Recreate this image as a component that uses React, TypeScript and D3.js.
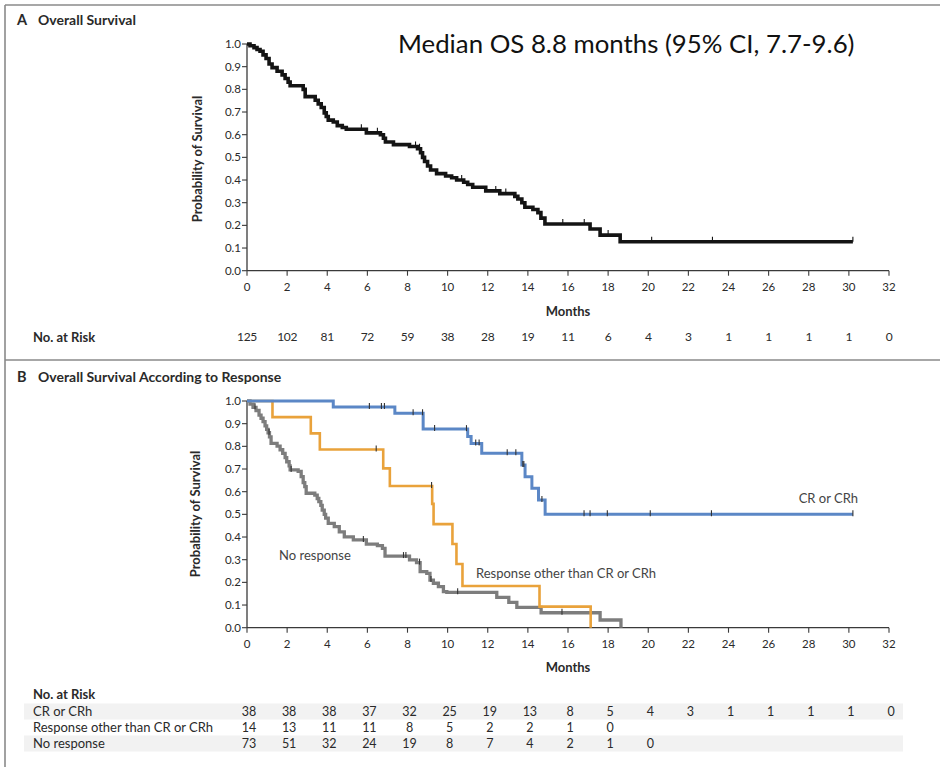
import React from "react";
import * as d3 from "d3";

// ---- Panel A: overall survival (step times in months, survival after each step) ----
const osTimes = [0.15, 0.35, 0.5, 0.65, 0.8, 0.95, 1.1, 1.25, 1.5, 1.75, 1.9, 2.05, 2.15, 2.8, 2.9, 3.4, 3.55, 3.7, 3.85, 3.95, 4.05, 4.3, 4.5, 4.75, 4.95, 5.95, 6.65, 6.8, 6.9, 7.3, 8.1, 8.5, 8.65, 8.75, 8.85, 9.0, 9.15, 9.45, 9.9, 10.2, 10.45, 10.8, 11.0, 11.25, 11.9, 12.6, 13.35, 13.5, 13.7, 13.85, 14.25, 14.5, 14.65, 14.85, 17.1, 17.6, 18.6];
const osValues = [0.992, 0.984, 0.976, 0.968, 0.952, 0.936, 0.912, 0.896, 0.88, 0.864, 0.848, 0.832, 0.816, 0.8, 0.768, 0.752, 0.736, 0.72, 0.696, 0.68, 0.664, 0.656, 0.64, 0.632, 0.624, 0.608, 0.6, 0.584, 0.568, 0.556, 0.548, 0.538, 0.52, 0.5, 0.482, 0.462, 0.444, 0.428, 0.418, 0.41, 0.4, 0.39, 0.38, 0.368, 0.352, 0.34, 0.328, 0.316, 0.3, 0.28, 0.27, 0.256, 0.232, 0.206, 0.184, 0.157, 0.128];
const osEnd = 30.2;
const osCensored = [5.7, 6.5, 8.4, 8.6, 10.7, 12.4, 12.9, 15.74, 16.81, 18.0, 20.17, 23.2, 30.2];
const osAtRisk = [125, 102, 81, 72, 59, 38, 28, 19, 11, 6, 4, 3, 1, 1, 1, 1, 0];

// ---- Panel B: survival by response ----
const crTimes = [4.3, 7.37, 8.78, 11.0, 11.17, 11.7, 13.7, 13.86, 14.2, 14.53, 14.86];
const crValues = [0.974, 0.946, 0.876, 0.843, 0.813, 0.769, 0.718, 0.666, 0.615, 0.563, 0.5];
const crEnd = 30.2;
const crCensored = [6.1, 6.7, 6.85, 8.28, 8.75, 9.35, 10.94, 11.4, 11.57, 12.97, 13.4, 13.75, 13.8, 14.7, 16.8, 17.1, 17.96, 20.1, 23.15, 30.2];

const orTimes = [1.27, 3.18, 3.63, 6.79, 7.12, 9.23, 9.3, 10.24, 10.44, 10.74, 14.58, 17.13];
const orValues = [0.929, 0.857, 0.786, 0.703, 0.625, 0.546, 0.457, 0.369, 0.281, 0.184, 0.093, 0];
const orEnd = 17.13;
const orCensored = [6.44, 9.2];

const nrTimes = [0.15, 0.3, 0.45, 0.6, 0.7, 0.8, 0.9, 0.98, 1.05, 1.12, 1.2, 1.5, 1.65, 1.78, 1.9, 1.98, 2.1, 2.15, 2.55, 2.7, 2.8, 2.88, 2.95, 3.38, 3.5, 3.58, 3.68, 3.75, 3.85, 3.92, 4.05, 4.35, 4.6, 4.85, 5.3, 5.95, 6.5, 6.75, 6.88, 8.1, 8.45, 8.63, 8.96, 9.12, 9.29, 9.54, 9.79, 9.96, 12.45, 13.05, 13.45, 14.66, 17.6, 18.64];
const nrValues = [0.986, 0.972, 0.958, 0.938, 0.924, 0.909, 0.89, 0.875, 0.86, 0.842, 0.813, 0.801, 0.785, 0.769, 0.75, 0.732, 0.714, 0.696, 0.69, 0.666, 0.64, 0.622, 0.593, 0.585, 0.57, 0.556, 0.54, 0.519, 0.5, 0.483, 0.46, 0.446, 0.423, 0.401, 0.387, 0.369, 0.362, 0.35, 0.316, 0.299, 0.287, 0.247, 0.24, 0.21, 0.196, 0.181, 0.159, 0.156, 0.134, 0.112, 0.09, 0.066, 0.034, 0];
const nrEnd = 18.64;
const nrCensored = [0.4, 1.1, 2.2, 5.8, 7.8, 7.92, 8.6, 9.17, 10.5, 15.7];

const riskGroups = ["CR or CRh", "Response other than CR or CRh", "No response"];
const crAtRisk = [38, 38, 38, 37, 32, 25, 19, 13, 8, 5, 4, 3, 1, 1, 1, 1, 0];
const orAtRisk = [14, 13, 11, 11, 8, 5, 2, 2, 1, 0];
const nrAtRisk = [73, 51, 32, 24, 19, 8, 7, 4, 2, 1, 0];

const monthTicks = d3.range(0, 33, 2);
const survTicks = d3.range(0, 1.01, 0.1);

const FONT = "Lato, 'Open Sans', sans-serif";
const TEXT = "#2a2a2a";
const AXIS = "#3a3a3a";
const BLUE = "#5b87c6";
const ORANGE = "#e9a23b";
const GRAY = "#7d7d7d";

const x = d3.scaleLinear().domain([0, 32]).range([247, 889]);
const yA = d3.scaleLinear().domain([0, 1]).range([270.7, 44]);
const yB = d3.scaleLinear().domain([0, 1]).range([627.7, 401]);

type Pt = [number, number];

function stepPoints(times: number[], values: number[], end: number): Pt[] {
  const pts: Pt[] = [[0, 1]];
  times.forEach((t, i) => pts.push([t, values[i]]));
  const last = pts[pts.length - 1];
  if (end > last[0]) pts.push([end, last[1]]);
  return pts;
}

function survivalAt(times: number[], values: number[], t: number): number {
  let s = 1;
  times.forEach((tt, i) => {
    if (tt <= t) s = values[i];
  });
  return s;
}

function Curve({ times, values, end, censored, y, color, width, tickColor, tickUp, tickDown }: any) {
  const line = d3
    .line<Pt>()
    .x((d) => x(d[0]))
    .y((d) => y(d[1]))
    .curve(d3.curveStepAfter);
  const pts = stepPoints(times, values, end);
  return (
    <g>
      <path d={line(pts) || ""} fill="none" stroke={color} strokeWidth={width} strokeLinejoin="miter" strokeLinecap="butt" />
      {censored.map((c: number, i: number) => {
        const cy = y(survivalAt(times, values, c));
        return <line key={i} x1={x(c)} x2={x(c)} y1={cy - tickUp} y2={cy + tickDown} stroke={tickColor} strokeWidth={1.1} />;
      })}
    </g>
  );
}

function Axes({ y, labelY, monthsY, titleX }: any) {
  const y0 = y(0);
  const y1 = y(1);
  return (
    <g fontFamily={FONT}>
      <line x1={x(0)} x2={x(0)} y1={y1} y2={y0} stroke={AXIS} strokeWidth={1.3} />
      <line x1={x(0)} x2={x(32)} y1={y0} y2={y0} stroke={AXIS} strokeWidth={1.3} />
      {survTicks.map((v) => (
        <g key={v}>
          <line x1={x(0) - 5} x2={x(0)} y1={y(v)} y2={y(v)} stroke={AXIS} strokeWidth={1.1} />
          <text x={x(0) - 6} y={y(v)} dy="0.35em" textAnchor="end" fontSize={11.5} fill={TEXT}>
            {v.toFixed(1)}
          </text>
        </g>
      ))}
      {monthTicks.map((m) => (
        <g key={m}>
          <line x1={x(m)} x2={x(m)} y1={y0} y2={y0 + 5} stroke={AXIS} strokeWidth={1.1} />
          <text x={x(m)} y={y0 + 16} dy="0.35em" textAnchor="middle" fontSize={11.5} fill={TEXT}>
            {m}
          </text>
        </g>
      ))}
      <text x={x(16)} y={monthsY} dy="0.35em" textAnchor="middle" fontSize={13} fontWeight="bold" fill={TEXT}>
        Months
      </text>
      <text
        transform={`translate(${titleX},${labelY}) rotate(-90)`}
        textAnchor="middle"
        dy="0.35em"
        fontSize={13}
        fontWeight="bold"
        fill={TEXT}
      >
        Probability of Survival
      </text>
    </g>
  );
}

export default function App() {
  const riskRowsB = [crAtRisk, orAtRisk, nrAtRisk];
  const rowY = [711.5, 727.5, 743.5];
  return (
    <svg width={940} height={767} style={{ position: "absolute", left: 0, top: 0, background: "#fff" }} fontFamily={FONT}>
      <rect x={0} y={0} width={940} height={767} fill="#fff" />
      {/* frame */}
      <line x1={5} x2={940} y1={5} y2={5} stroke="#8a8a8a" strokeWidth={1.6} />
      <line x1={5} x2={5} y1={5} y2={767} stroke="#8a8a8a" strokeWidth={1.6} />
      <line x1={5} x2={940} y1={360} y2={360} stroke="#8a8a8a" strokeWidth={1.6} />

      {/* Panel A */}
      <text x={17} y={25} fontSize={14.5} fontWeight="bold" fill={TEXT}>A</text>
      <text x={38} y={25} fontSize={14} fontWeight="bold" fill={TEXT}>Overall Survival</text>
      <text x={398} y={53} fontSize={25.8} fill="#111">
        Median OS 8.8 months (95% CI, 7.7-9.6)
      </text>
      <Axes y={yA} labelY={159} monthsY={311} titleX={197} />
      <Curve times={osTimes} values={osValues} end={osEnd} censored={osCensored} y={yA} color="#141414" width={3.6} tickColor="#141414" tickUp={5} tickDown={0} />
      <text x={33} y={337} dy="0.35em" fontSize={13} fontWeight="bold" fill={TEXT}>No. at Risk</text>
      {osAtRisk.map((n, i) => (
        <text key={i} x={x(monthTicks[i])} y={337} dy="0.35em" textAnchor="middle" fontSize={12} fill={TEXT} letterSpacing={-0.3}>
          {n}
        </text>
      ))}

      {/* Panel B */}
      <text x={17} y={382} fontSize={14.5} fontWeight="bold" fill={TEXT}>B</text>
      <text x={38} y={382} fontSize={14} fontWeight="bold" fill={TEXT}>Overall Survival According to Response</text>
      <Axes y={yB} labelY={514} monthsY={667} titleX={195} />
      <Curve times={nrTimes} values={nrValues} end={nrEnd} censored={nrCensored} y={yB} color={GRAY} width={3.3} tickColor="#333" tickUp={4} tickDown={2} />
      <Curve times={orTimes} values={orValues} end={orEnd} censored={orCensored} y={yB} color={ORANGE} width={2.6} tickColor="#333" tickUp={4} tickDown={2} />
      <Curve times={crTimes} values={crValues} end={crEnd} censored={crCensored} y={yB} color={BLUE} width={3} tickColor="#333" tickUp={4} tickDown={2} />
      <text x={279} y={560} fontSize={13} fill="#444">No response</text>
      <text x={476} y={578} fontSize={13} fill="#444">Response other than CR or CRh</text>
      <text x={858} y={503} textAnchor="end" fontSize={13} fill="#444">CR or CRh</text>

      {/* risk table B */}
      <text x={33} y={694} dy="0.35em" fontSize={13} fontWeight="bold" fill={TEXT}>No. at Risk</text>
      <rect x={24} y={703.5} width={879} height={16} fill="#f2f2f2" />
      <rect x={24} y={735.5} width={879} height={16} fill="#f2f2f2" />
      {riskGroups.map((g, r) => (
        <g key={g}>
          <text x={33} y={rowY[r]} dy="0.35em" fontSize={13} fill={TEXT}>{g}</text>
          {riskRowsB[r].map((n, i) => (
            <text key={i} x={x(monthTicks[i]) + 2} y={rowY[r]} dy="0.35em" textAnchor="middle" fontSize={12.5} fill={TEXT}>
              {n}
            </text>
          ))}
        </g>
      ))}
    </svg>
  );
}
